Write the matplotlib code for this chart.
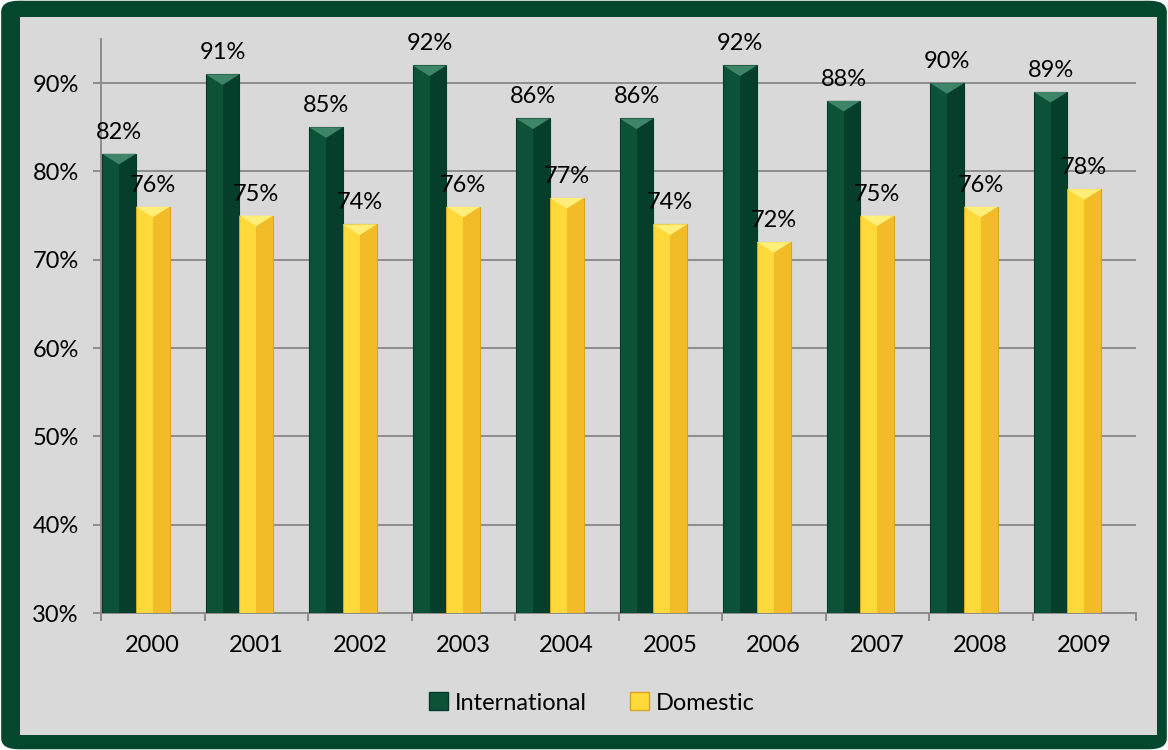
import matplotlib
matplotlib.use("Agg")
import matplotlib.pyplot as plt
import numpy as np
from matplotlib.patches import FancyBboxPatch, Rectangle, Polygon

years = ["2000", "2001", "2002", "2003", "2004", "2005", "2006", "2007", "2008", "2009"]
international = [82, 91, 85, 92, 86, 86, 92, 88, 90, 89]
domestic = [76, 75, 74, 76, 77, 74, 72, 75, 76, 78]
yticks = [30, 40, 50, 60, 70, 80, 90]
series_names = ["International", "Domestic"]

plt.rcParams['font.family'] = ['Lato', 'DejaVu Sans']
FS = 17

W, H = 1168, 750
fig = plt.figure(figsize=(W / 100, H / 100), dpi=100)
fig.patch.set_facecolor("white")

# outer dark green frame
frame = FancyBboxPatch((0.001, 0.001), 0.998, 0.998, boxstyle="round,pad=0,rounding_size=0.015",
                       transform=fig.transFigure, facecolor="#03472F", edgecolor="none", zorder=-3)
fig.patches.append(frame)
inner = Rectangle((20 / W, 1 - 735 / H), (1157 - 20) / W, (735 - 17) / H,
                  transform=fig.transFigure, facecolor="#D9D9D9", edgecolor="none", zorder=-2)
fig.patches.append(inner)

ax = fig.add_axes([101 / W, 1 - 613 / H, (1136 - 101) / W, (613 - 39) / H])
ax.set_facecolor("none")
ax.set_xlim(0, len(years))
ax.set_ylim(30, 95)

green = "#0B5239"
green_dark = "#053F2B"
green_top = "#3E8468"
yellow = "#FFD83A"
yellow_dark = "#F2BC28"
yellow_top = "#FFEE78"

x = np.arange(len(years))
bw = 0.325
x_int = x + 0.012
x_dom = x_int + bw

def bevel_bars(xs, vals, base, dark, top, edge):
    ax.bar(xs, [v - 30 for v in vals], bottom=30, width=bw, align="edge", color=base,
           edgecolor=edge, linewidth=0.8, zorder=3)
    ax.bar(xs + bw / 2, [v - 30 for v in vals], bottom=30, width=bw / 2, align="edge",
           color=dark, edgecolor="none", zorder=3.5)
    for xi, v in zip(xs, vals):
        tri = Polygon([(xi, v), (xi + bw, v), (xi + bw / 2, v - 1.2)], closed=True,
                      facecolor=top, edgecolor="none", zorder=4)
        ax.add_patch(tri)
        ax.annotate(f"{v}%", (xi + bw / 2, v), xytext=(0, 8), textcoords="offset points",
                    ha="center", va="bottom", fontsize=FS, color="black", zorder=5)

bevel_bars(x_int, international, green, green_dark, green_top, "#04392A")
bevel_bars(x_dom, domestic, yellow, yellow_dark, yellow_top, "#D9A520")

ax.set_yticks(yticks)
ax.set_yticklabels([f"{t}%" for t in yticks], fontsize=FS)
ax.yaxis.grid(True, color="#8C8C8C", linewidth=1.4, zorder=1)
ax.set_axisbelow(True)
ax.tick_params(axis="y", length=6, width=1.4, color="#8C8C8C", pad=10)

ax.set_xticks(np.arange(len(years) + 1))
ax.set_xticklabels([])
ax.set_xticks(x + 0.5, minor=True)
ax.set_xticklabels(years, minor=True, fontsize=FS)
ax.tick_params(axis="x", which="major", length=6, width=1.4, color="#8C8C8C")
ax.tick_params(axis="x", which="minor", length=0, pad=16)

for s in ["top", "right"]:
    ax.spines[s].set_visible(False)
for s in ["left", "bottom"]:
    ax.spines[s].set_color("#8C8C8C")
    ax.spines[s].set_linewidth(1.4)

handles = [Rectangle((0, 0), 1, 1, facecolor=green, edgecolor="#04392A"),
           Rectangle((0, 0), 1, 1, facecolor=yellow, edgecolor="#D9A520")]
fig.legend(handles, series_names, loc="center", bbox_to_anchor=(592 / W, 1 - 703 / H),
           ncol=2, frameon=False, fontsize=FS, handlelength=0.8, handleheight=0.8,
           handletextpad=0.3, columnspacing=1.8)

fig.savefig("out.png", dpi=100, facecolor=fig.get_facecolor())
